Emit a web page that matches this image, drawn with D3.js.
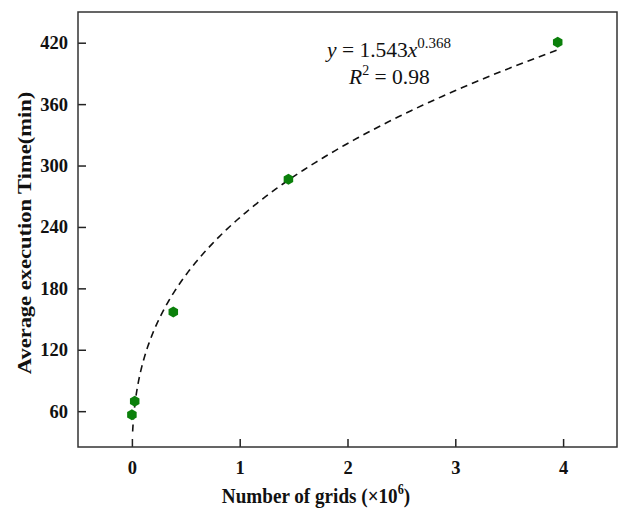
<!DOCTYPE html>
<html><head><meta charset="utf-8">
<script src="https://cdn.jsdelivr.net/npm/d3@7"></script>
<style>body{margin:0;background:#fff}svg{display:block}</style>
</head><body>
<script>
// Data (x in units of 10^6 grids, y in minutes)
const gridsMillions = [0.0, 0.026, 0.384, 1.452, 3.95];
const execMinutes   = [56.5, 69.8, 157, 286.5, 420.4];
const xTicks = [0, 1, 2, 3, 4];
const yTicks = [60, 120, 180, 240, 300, 360, 420];
// Fitted power law shown in the chart: y = a * x^b  (x = raw grid count)
const fitA = 1.543, fitB = 0.368, fitR2 = 0.98;
const fitRange = [0.007, 3.95];

const W = 619, H = 509;
const m = {left: 78, right: 2, top: 12, bottom: 62};
const svg = d3.select("body").append("svg").attr("width", W).attr("height", H);
const x = d3.scaleLinear().domain([-0.5, 4.5]).range([m.left, W - m.right]);
const y = d3.scaleLinear().domain([25, 450]).range([H - m.bottom, m.top]);

const font = "'Liberation Serif','Times New Roman',serif";

// axes (ticks inward)
const gx = svg.append("g").attr("transform", `translate(0,${H - m.bottom})`)
  .call(d3.axisBottom(x).tickValues(xTicks).tickSizeInner(-8).tickSizeOuter(0).tickPadding(14).tickFormat(d3.format("d")));
const gy = svg.append("g").attr("transform", `translate(${m.left},0)`)
  .call(d3.axisLeft(y).tickValues(yTicks).tickSizeInner(-8).tickSizeOuter(0).tickPadding(10).tickFormat(d3.format("d")));
[gx, gy].forEach(g => {
  g.select(".domain").remove();
  g.selectAll(".tick line").attr("stroke", "#222").attr("stroke-width", 1.5);
  g.selectAll(".tick text").attr("font-family", font).attr("font-weight", "bold")
    .attr("font-size", 18.5).attr("fill", "#111");
});

// frame
svg.append("rect").attr("x", m.left).attr("y", m.top)
  .attr("width", W - m.right - m.left).attr("height", H - m.bottom - m.top)
  .attr("fill", "none").attr("stroke", "#333").attr("stroke-width", 1.5);

// fit curve
const fitPts = d3.range(0, 301).map(i => {
  const t = i / 300;
  const xv = fitRange[0] * Math.pow(fitRange[1] / fitRange[0], t);
  return [xv, fitA * Math.pow(xv * 1e6, fitB)];
});
svg.append("path").datum(fitPts)
  .attr("d", d3.line().x(d => x(d[0])).y(d => y(d[1])))
  .attr("fill", "none").attr("stroke", "#111").attr("stroke-width", 1.6)
  .attr("stroke-dasharray", "7,5");

// hexagon markers
const r = 5.5;
const hex = d3.range(6).map(k => {
  const a = Math.PI / 6 + k * Math.PI / 3;
  return [r * Math.cos(a), r * Math.sin(a)];
});
svg.append("g").selectAll("path").data(gridsMillions.map((g, i) => [g, execMinutes[i]]))
  .join("path")
  .attr("transform", d => `translate(${x(d[0])},${y(d[1])})`)
  .attr("d", "M" + hex.join("L") + "Z")
  .attr("fill", "#0b800b");

// equation
const eq = svg.append("text").attr("x", 327).attr("y", 57)
  .attr("font-family", font).attr("font-size", 21.5).attr("fill", "#111");
eq.append("tspan").attr("font-style", "italic").text("y");
eq.append("tspan").text(" = " + fitA.toFixed(3));
eq.append("tspan").attr("font-style", "italic").text("x");
eq.append("tspan").attr("font-size", 15).attr("dy", -9).text(fitB.toFixed(3));
const r2 = svg.append("text").attr("x", 349).attr("y", 84)
  .attr("font-family", font).attr("font-size", 21.5).attr("fill", "#111");
r2.append("tspan").attr("font-style", "italic").text("R");
r2.append("tspan").attr("font-size", 14).attr("dy", -9).text("2");
r2.append("tspan").attr("dy", 9).text(" = " + fitR2.toFixed(2));

// axis titles
const xt = svg.append("text").attr("transform", "translate(316,503) scale(0.87,1)")
  .attr("text-anchor", "middle").attr("font-family", font).attr("font-weight", "bold")
  .attr("font-size", 22).attr("fill", "#111");
xt.append("tspan").text("Number of grids (×10");
xt.append("tspan").attr("font-size", 14).attr("dy", -9).text("6");
xt.append("tspan").attr("dy", 9).text(")");

svg.append("text").attr("transform", "translate(31,233) rotate(-90) scale(1,0.87)")
  .attr("text-anchor", "middle").attr("font-family", font).attr("font-weight", "bold")
  .attr("font-size", 22.5).attr("fill", "#111").text("Average execution Time(min)");
</script>
</body></html>
